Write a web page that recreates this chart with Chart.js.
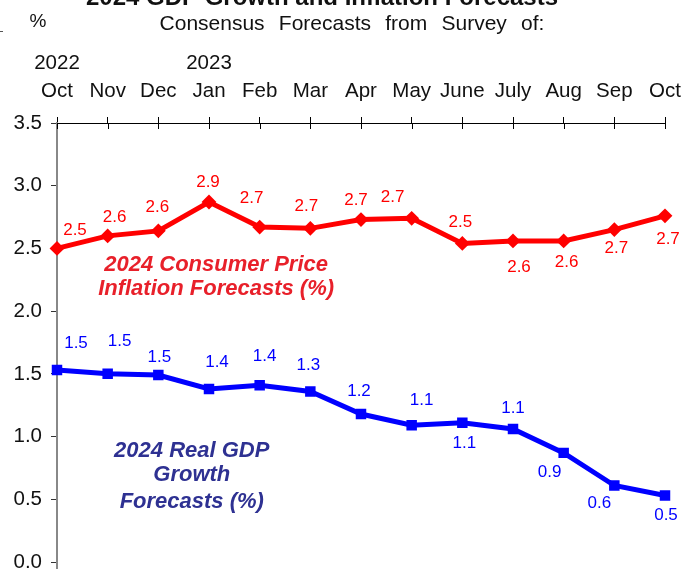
<!DOCTYPE html>
<html lang="en">
<head>
  <meta charset="UTF-8">
  <title>2024 GDP Growth and Inflation Forecasts</title>
  <script src="https://cdn.jsdelivr.net/npm/chart.js"></script>
  <style>
    html, body { margin: 0; padding: 0; background: #fff; overflow: hidden; }
    #wrap { position: absolute; left: 0; top: -40px; width: 699px; height: 629px; }
  </style>
</head>
<body>
  <div id="wrap"><canvas id="chart"></canvas></div>

  <script>
    // survey months (top axis) and the year shown above some of them
    const months = ['Oct', 'Nov', 'Dec', 'Jan', 'Feb', 'Mar', 'Apr', 'May', 'June', 'July', 'Aug', 'Sep', 'Oct'];
    const years = ['2022', '', '', '2023', '', '', '', '', '', '', '', '', ''];

    // consensus forecasts, %
    const cpiForecast = [2.50, 2.60, 2.64, 2.87, 2.67, 2.66, 2.73, 2.74, 2.54, 2.56, 2.56, 2.65, 2.76];
    const gdpForecast = [1.53, 1.50, 1.49, 1.38, 1.41, 1.36, 1.18, 1.09, 1.11, 1.06, 0.87, 0.61, 0.53];

    // value labels as printed on the chart
    const cpiText = ['2.5', '2.6', '2.6', '2.9', '2.7', '2.7', '2.7', '2.7', '2.5', '2.6', '2.6', '2.7', '2.7'];
    const gdpText = ['1.5', '1.5', '1.5', '1.4', '1.4', '1.3', '1.2', '1.1', '1.1', '1.1', '0.9', '0.6', '0.5'];

    const yMin = 0, yMax = 3.5, yStep = 0.5;

    // label placement relative to each point (px)
    const cpiOffsets = [[18,-18],[7,-19],[-1,-24],[-1,-20],[-8,-29],[-4,-22],[-5,-19],[-19,-21],[-2,-21],[6,26],[3,21],[2,19],[3,23]];
    const gdpOffsets = [[19,-27],[12,-33],[1,-18],[8,-27],[5,-29],[-2,-26],[-2,-23],[10,-25],[2,21],[0,-21],[-14,19],[-15,18],[1,20]];

    const FONT = '"Liberation Sans", Arial, Helvetica, sans-serif';

    function drawWords(ctx, text, cx, y, extra) {
      const words = text.split(' ');
      const sp = ctx.measureText(' ').width + extra;
      let total = 0;
      words.forEach((w, i) => { total += ctx.measureText(w).width + (i ? sp : 0); });
      let x = cx - total / 2;
      ctx.textAlign = 'left';
      words.forEach(w => { ctx.fillText(w, x, y); x += ctx.measureText(w).width + sp; });
    }

    const decorations = {
      id: 'decorations',
      afterDraw(chart) {
        const ctx = chart.ctx;
        const area = chart.chartArea;
        const xs = chart.scales.x;
        ctx.save();

        // headings
        ctx.fillStyle = '#111';
        ctx.textBaseline = 'alphabetic';
        ctx.font = 'bold 24px ' + FONT;
        drawWords(ctx, '2024 GDP Growth and Inflation Forecasts', 322, 44.5, 0);
        ctx.font = '21px ' + FONT;
        drawWords(ctx, 'Consensus Forecasts from Survey of:', 352, 69.5, 8.4);
        ctx.font = '19px ' + FONT;
        ctx.textAlign = 'center';
        ctx.fillText('%', 38, 67);

        ctx.strokeStyle = '#555';
        ctx.lineWidth = 1;
        ctx.beginPath();
        ctx.moveTo(0, 71.5); ctx.lineTo(3, 71.5);
        ctx.stroke();

        // lower half of the top-axis tick marks
        ctx.strokeStyle = '#000';
        ctx.beginPath();
        xs.ticks.forEach((t, i) => {
          const x = Math.round(xs.getPixelForTick(i)) + 0.5;
          ctx.moveTo(x, area.top);
          ctx.lineTo(x, area.top + 6);
        });
        ctx.stroke();

        // y axis line continues a little below 0
        ctx.strokeStyle = '#888';
        ctx.lineWidth = 2;
        ctx.beginPath();
        ctx.moveTo(area.left, area.bottom);
        ctx.lineTo(area.left, area.bottom + 10);
        ctx.stroke();
        ctx.restore();
      },
      afterDatasetsDraw(chart) {
        const ctx = chart.ctx;
        const xs = chart.scales.x, ys = chart.scales.y;
        ctx.save();
        ctx.textAlign = 'center';
        ctx.textBaseline = 'middle';

        // value labels
        ctx.font = '17px ' + FONT;
        [[0, cpiText, cpiOffsets, '#ff0000'], [1, gdpText, gdpOffsets, '#0000ff']].forEach(([di, txt, off, col]) => {
          ctx.fillStyle = col;
          chart.getDatasetMeta(di).data.forEach((pt, i) => {
            ctx.fillText(txt[i], pt.x + off[i][0], pt.y + off[i][1]);
          });
        });

        // series captions
        ctx.font = 'italic bold 22px ' + FONT;
        ctx.fillStyle = '#e8202a';
        ctx.fillText('2024 Consumer Price', xs.getPixelForValue(3.14), ys.getPixelForValue(2.368));
        ctx.fillText('Inflation Forecasts (%)', xs.getPixelForValue(3.14), ys.getPixelForValue(2.177));
        ctx.fillStyle = '#2e3192';
        ctx.fillText('2024 Real GDP', xs.getPixelForValue(2.66), ys.getPixelForValue(0.885));
        ctx.fillText('Growth', xs.getPixelForValue(2.66), ys.getPixelForValue(0.694));
        ctx.fillText('Forecasts (%)', xs.getPixelForValue(2.66), ys.getPixelForValue(0.478));
        ctx.restore();
      }
    };

    new Chart(document.getElementById('chart'), {
      type: 'line',
      data: {
        labels: months.map((m, i) => [years[i], m]),
        datasets: [
          {
            label: 'CPI',
            data: cpiForecast,
            borderColor: '#ff0000',
            backgroundColor: '#ff0000',
            borderWidth: 5,
            pointStyle: 'rectRot',
            pointRadius: 6,
            pointBorderWidth: 2,
            tension: 0,
            clip: false
          },
          {
            label: 'GDP',
            data: gdpForecast,
            borderColor: '#0000ff',
            backgroundColor: '#0000ff',
            borderWidth: 5,
            pointStyle: 'rect',
            pointRadius: 6,
            pointBorderWidth: 2,
            tension: 0,
            clip: false
          }
        ]
      },
      options: {
        responsive: true,
        maintainAspectRatio: false,
        animation: false,
        layout: { padding: { left: 0, right: 34, top: 0, bottom: 27 } },
        plugins: { legend: { display: false }, tooltip: { enabled: false } },
        scales: {
          x: {
            position: 'top',
            offset: false,
            grid: { drawOnChartArea: false, tickLength: 6, color: '#000', lineWidth: 1 },
            border: { color: '#000', width: 1 },
            ticks: {
              color: '#111',
              font: { family: FONT, size: 20.5, lineHeight: 1.366 },
              padding: 12,
              maxRotation: 0,
              minRotation: 0,
              autoSkip: false
            },
            afterFit(s) { s.height = 163; }
          },
          y: {
            min: yMin,
            max: yMax,
            grid: { drawOnChartArea: false, tickLength: 6, color: '#333' },
            border: { color: '#888', width: 2 },
            ticks: {
              stepSize: yStep,
              color: '#111',
              padding: 9,
              font: { family: FONT, size: 20.5 },
              callback: v => v.toFixed(1)
            },
            afterFit(s) { s.width = 57; }
          }
        }
      },
      plugins: [decorations]
    });
  </script>
</body>
</html>
